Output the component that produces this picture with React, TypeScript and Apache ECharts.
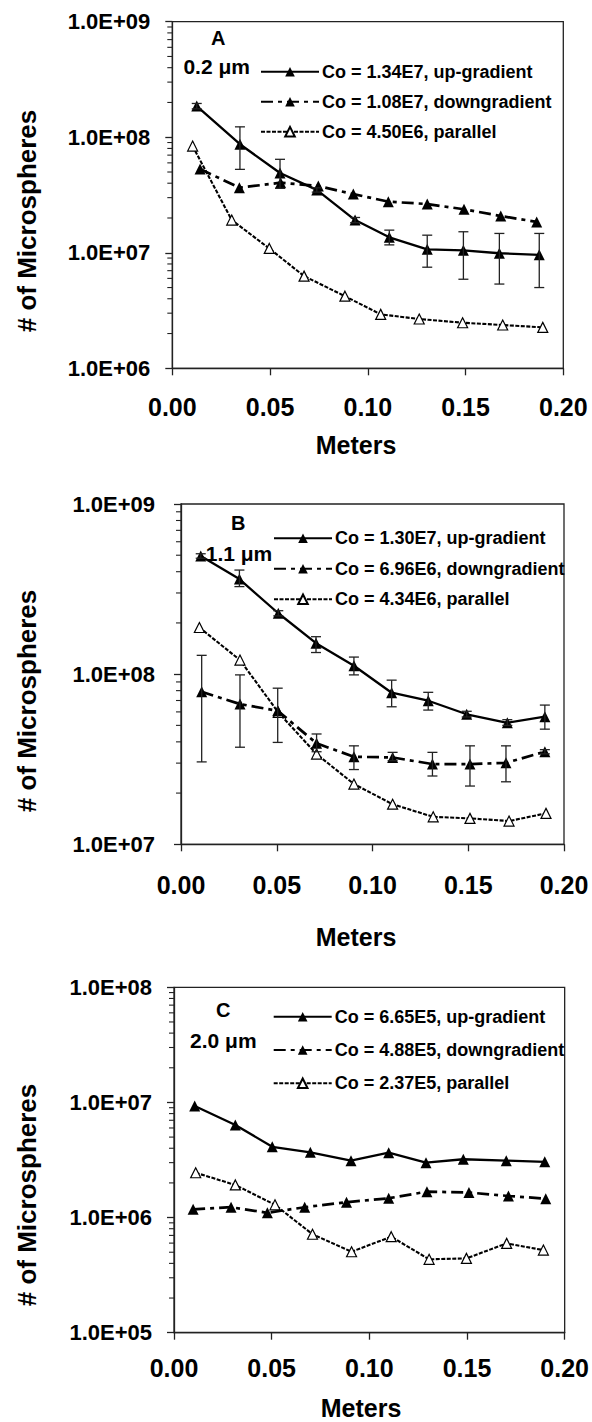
import React, { useEffect, useRef } from "react";
import * as echarts from "echarts";

// ---------- data ----------
const X_TICKS_MIN = 0;
const X_TICKS_MAX = 0.2;
const X_TICK_STEP = 0.05;
const MINOR_MULTIPLIERS = [2, 3, 4, 5, 6, 7, 8, 9];

// Panel A (0.2 um)
const A_NAMES = ["Co = 1.34E7, up-gradient", "Co = 1.08E7, downgradient", "Co = 4.50E6, parallel"];
const A_UP_X = [0.0125, 0.0346, 0.0551, 0.0739, 0.0935, 0.111, 0.1304, 0.1489, 0.1673, 0.1877];
const A_UP_Y = [1.86e8, 8.7e7, 4.9e7, 3.5e7, 1.92e7, 1.36e7, 1.07e7, 1.05e7, 9.9e6, 9.6e6];
const A_UP_LO = [1.76e8, 5.27e7, 3.61e7, 3.35e7, 1.82e7, 1.17e7, 7.5e6, 5.9e6, 5.36e6, 5.0e6];
const A_UP_HI = [1.96e8, 1.23e8, 6.44e7, 3.65e7, 2.02e7, 1.57e7, 1.42e7, 1.52e7, 1.47e7, 1.47e7];
const A_DN_X = [0.0142, 0.0343, 0.0554, 0.0747, 0.0926, 0.1105, 0.1304, 0.1492, 0.168, 0.1864];
const A_DN_Y = [5.3e7, 3.66e7, 4.04e7, 3.78e7, 3.22e7, 2.77e7, 2.64e7, 2.38e7, 2.08e7, 1.85e7];
const A_PA_X = [0.0104, 0.0304, 0.0496, 0.0674, 0.0883, 0.1066, 0.1263, 0.1485, 0.169, 0.1895];
const A_PA_Y = [8.39e7, 1.92e7, 1.09e7, 6.28e6, 4.21e6, 2.93e6, 2.67e6, 2.48e6, 2.37e6, 2.26e6];

// Panel B (1.1 um)
const B_NAMES = ["Co = 1.30E7, up-gradient", "Co = 6.96E6, downgradient", "Co = 4.34E6, parallel"];
const B_UP_X = [0.0103, 0.0305, 0.0508, 0.0705, 0.0903, 0.11, 0.1291, 0.1492, 0.1704, 0.19];
const B_UP_Y = [4.95e8, 3.62e8, 2.28e8, 1.52e8, 1.12e8, 7.78e7, 6.98e7, 5.81e7, 5.18e7, 5.62e7];
const B_UP_LO = [4.8e8, 3.27e8, 2.2e8, 1.34e8, 9.9e7, 6.43e7, 6.15e7, 5.6e7, 5.0e7, 4.75e7];
const B_UP_HI = [5.1e8, 4.09e8, 2.36e8, 1.66e8, 1.26e8, 9.22e7, 7.82e7, 6.05e7, 5.4e7, 6.58e7];
const B_DN_X = [0.0108, 0.0308, 0.0505, 0.0708, 0.0903, 0.1105, 0.1313, 0.1509, 0.1697, 0.19];
const B_DN_Y = [7.88e7, 6.67e7, 6.09e7, 3.92e7, 3.27e7, 3.24e7, 2.96e7, 2.96e7, 3.01e7, 3.5e7];
const B_DN_LO = [3.05e7, 3.72e7, 3.97e7, 3.5e7, 2.75e7, 3.1e7, 2.52e7, 2.2e7, 2.33e7, 3.4e7];
const B_DN_HI = [1.29e8, 9.9e7, 8.27e7, 4.45e7, 3.79e7, 3.47e7, 3.47e7, 3.79e7, 3.79e7, 3.6e7];
const B_PA_X = [0.0096, 0.0308, 0.0508, 0.0708, 0.0903, 0.1105, 0.1317, 0.1509, 0.1713, 0.1906];
const B_PA_Y = [1.88e8, 1.21e8, 5.96e7, 3.39e7, 2.26e7, 1.72e7, 1.45e7, 1.42e7, 1.37e7, 1.52e7];

// Panel C (2.0 um)
const C_NAMES = ["Co = 6.65E5, up-gradient", "Co = 4.88E5, downgradient", "Co = 2.37E5, parallel"];
const C_UP_X = [0.0106, 0.0314, 0.0503, 0.0698, 0.0906, 0.1099, 0.129, 0.1481, 0.1701, 0.1898];
const C_UP_Y = [9.31e6, 6.37e6, 4.12e6, 3.69e6, 3.12e6, 3.66e6, 3.0e6, 3.21e6, 3.12e6, 3.05e6];
const C_DN_X = [0.0098, 0.0292, 0.0478, 0.0669, 0.0883, 0.1099, 0.1295, 0.151, 0.1712, 0.1903];
const C_DN_Y = [1.18e6, 1.23e6, 1.1e6, 1.23e6, 1.36e6, 1.47e6, 1.68e6, 1.65e6, 1.54e6, 1.46e6];
const C_PA_X = [0.0111, 0.0314, 0.0517, 0.0709, 0.0909, 0.1112, 0.1306, 0.1497, 0.1703, 0.1891];
const C_PA_Y = [2.45e6, 1.92e6, 1.29e6, 7.16e5, 5.05e5, 6.82e5, 4.34e5, 4.42e5, 5.97e5, 5.22e5];

const PANEL_LETTERS = ["A", "B", "C"];
const PANEL_SIZES = ["0.2 \u03bcm", "1.1 \u03bcm", "2.0 \u03bcm"];
const Y_MIN = [1e6, 1e7, 1e5];
const Y_MAX = [1e9, 1e9, 1e8];
const Y_TITLE = "# of Microspheres";
const X_TITLE = "Meters";

// ---------- layout ----------
const FONT = '"Liberation Sans", Arial, Helvetica, sans-serif';
const LAYOUT = [
  {
    grid: { left: 172.3, top: 21.7, width: 391, height: 346.6 },
    yLabelMargin: 22, xLabelMargin: 26,
    legend: { left: 260, top: 62.7, gap: 12 },
    letter: [218.3, 38.3], size: [216.7, 66.7],
    yTitle: [27, 221], xTitle: [356, 445],
  },
  {
    grid: { left: 181, top: 504, width: 383, height: 340.3 },
    yLabelMargin: 26, xLabelMargin: 28,
    legend: { left: 273, top: 529.3, gap: 12.5 },
    letter: [238.3, 523.3], size: [239, 553.3],
    yTitle: [27, 701], xTitle: [356, 937],
  },
  {
    grid: { left: 174, top: 987.3, width: 394.7, height: 345.4 },
    yLabelMargin: 22, xLabelMargin: 23,
    legend: { left: 272.7, top: 1007.7, gap: 15.3 },
    letter: [223.3, 1010], size: [223.3, 1040.7],
    yTitle: [27, 1195], xTitle: [361, 1408],
  },
];

const zip = (xs: number[], ys: number[]) => xs.map((x, i) => [x, ys[i]]);
const zip3 = (xs: number[], lo: number[], hi: number[]) => xs.map((x, i) => [x, lo[i], hi[i]]);

const STYLE: Record<string, any> = {
  up: {
    lineStyle: { color: "#000", width: 2.3, type: "solid" },
    symbol: "triangle", symbolSize: 11,
    itemStyle: { color: "#000" },
  },
  down: {
    lineStyle: { color: "#000", width: 2.7, type: [12, 5, 4, 5] },
    symbol: "triangle", symbolSize: 11,
    itemStyle: { color: "#000" },
  },
  par: {
    lineStyle: { color: "#000", width: 2.1, type: [4, 1.5] },
    symbol: "triangle", symbolSize: 10,
    itemStyle: { color: "#fff", borderColor: "#000", borderWidth: 1.2 },
  },
};

const PANEL_SERIES = [
  [
    { name: A_NAMES[0], kind: "up", data: zip(A_UP_X, A_UP_Y), err: zip3(A_UP_X, A_UP_LO, A_UP_HI) },
    { name: A_NAMES[1], kind: "down", data: zip(A_DN_X, A_DN_Y) },
    { name: A_NAMES[2], kind: "par", data: zip(A_PA_X, A_PA_Y) },
  ],
  [
    { name: B_NAMES[0], kind: "up", data: zip(B_UP_X, B_UP_Y), err: zip3(B_UP_X, B_UP_LO, B_UP_HI) },
    { name: B_NAMES[1], kind: "down", data: zip(B_DN_X, B_DN_Y), err: zip3(B_DN_X, B_DN_LO, B_DN_HI) },
    { name: B_NAMES[2], kind: "par", data: zip(B_PA_X, B_PA_Y) },
  ],
  [
    { name: C_NAMES[0], kind: "up", data: zip(C_UP_X, C_UP_Y) },
    { name: C_NAMES[1], kind: "down", data: zip(C_DN_X, C_DN_Y) },
    { name: C_NAMES[2], kind: "par", data: zip(C_PA_X, C_PA_Y) },
  ],
];

function expLabel(v: number) {
  const e = Math.round(Math.log10(v));
  return "1.0E+" + (e < 10 ? "0" : "") + e;
}

function buildOption() {
  const grid: any[] = [];
  const xAxis: any[] = [];
  const yAxis: any[] = [];
  const legend: any[] = [];
  const series: any[] = [];
  const graphic: any[] = [];

  LAYOUT.forEach((L, i) => {
    grid.push({ ...L.grid, show: true, borderColor: "#222", borderWidth: 1.3, backgroundColor: "#fff", containLabel: false });
    xAxis.push({
      type: "value", gridIndex: i, min: X_TICKS_MIN, max: X_TICKS_MAX, interval: X_TICK_STEP,
      axisLine: { show: true, onZero: false, lineStyle: { color: "#222", width: 1.3 } },
      axisTick: { show: true, length: 7, lineStyle: { color: "#222", width: 1.3 } },
      axisLabel: {
        margin: L.xLabelMargin, color: "#000", fontSize: 25, fontWeight: "bold", fontFamily: FONT,
        formatter: (v: number) => v.toFixed(2),
      },
      splitLine: { show: false },
    });
    yAxis.push({
      type: "log", logBase: 10, gridIndex: i, min: Y_MIN[i], max: Y_MAX[i],
      axisLine: { show: true, lineStyle: { color: "#222", width: 1.3 } },
      axisTick: { show: true, length: 7, lineStyle: { color: "#222", width: 1.3 } },
      axisLabel: {
        margin: L.yLabelMargin, color: "#000", fontSize: 22, fontWeight: "bold", fontFamily: FONT,
        formatter: expLabel,
      },
      splitLine: { show: false },
    });

    const names = PANEL_SERIES[i].map((s) => s.name);
    legend.push({
      data: names, orient: "vertical", left: L.legend.left, top: L.legend.top,
      itemGap: L.legend.gap, itemWidth: 58, itemHeight: 12, padding: 0,
      selectedMode: false,
      textStyle: { fontSize: 18, fontWeight: "bold", fontFamily: FONT, color: "#000", padding: [0, 0, 0, -2] },
    });

    // minor log ticks
    const minor: number[][] = [];
    for (let e = Math.round(Math.log10(Y_MIN[i])); e < Math.round(Math.log10(Y_MAX[i])); e++) {
      MINOR_MULTIPLIERS.forEach((m) => minor.push([0, m * Math.pow(10, e)]));
    }
    series.push({
      type: "custom", xAxisIndex: i, yAxisIndex: i, clip: false, silent: true, z: 1,
      data: minor,
      renderItem: (_p: any, api: any) => {
        const p = api.coord([0, api.value(1)]);
        return { type: "line", shape: { x1: p[0] - 5, y1: p[1], x2: p[0], y2: p[1] }, style: { stroke: "#222", lineWidth: 1.1 } };
      },
    });

    PANEL_SERIES[i].forEach((s: any) => {
      const st = STYLE[s.kind];
      series.push({
        type: "line", name: s.name, xAxisIndex: i, yAxisIndex: i, data: s.data,
        symbol: st.symbol, symbolSize: st.symbolSize, showSymbol: true,
        lineStyle: st.lineStyle, itemStyle: st.itemStyle, z: s.kind === "par" ? 3 : 4,
        emphasis: { disabled: true },
      });
      if (s.err) {
        series.push({
          type: "custom", xAxisIndex: i, yAxisIndex: i, clip: false, silent: true, z: 5,
          data: s.err,
          encode: { x: 0, y: [1, 2] },
          renderItem: (_p: any, api: any) => {
            const x = api.value(0);
            const lo = api.coord([x, api.value(1)]);
            const hi = api.coord([x, api.value(2)]);
            const st2 = { stroke: "#222", lineWidth: 1.3 };
            return {
              type: "group",
              children: [
                { type: "line", shape: { x1: lo[0], y1: lo[1], x2: hi[0], y2: hi[1] }, style: st2 },
                { type: "line", shape: { x1: hi[0] - 5, y1: hi[1], x2: hi[0] + 5, y2: hi[1] }, style: st2 },
                { type: "line", shape: { x1: lo[0] - 5, y1: lo[1], x2: lo[0] + 5, y2: lo[1] }, style: st2 },
              ],
            };
          },
        });
      }
    });

    const txt = (x: number, y: number, text: string, size: number, rot = 0) => ({
      type: "text", x, y, rotation: rot, silent: true, z: 10,
      style: { text, fill: "#000", fontSize: size, fontWeight: "bold", fontFamily: FONT, align: "center", verticalAlign: "middle" },
    });
    graphic.push(txt(L.letter[0], L.letter[1], PANEL_LETTERS[i], 20));
    graphic.push(txt(L.size[0], L.size[1], PANEL_SIZES[i], 21));
    graphic.push(txt(L.yTitle[0], L.yTitle[1], Y_TITLE, 26, Math.PI / 2));
    graphic.push(txt(L.xTitle[0], L.xTitle[1], X_TITLE, 25));
  });

  return {
    animation: false,
    backgroundColor: "#fff",
    textStyle: { fontFamily: FONT },
    grid, xAxis, yAxis, legend, series, graphic,
  };
}

export default function App() {
  const ref = useRef<HTMLDivElement>(null);
  useEffect(() => {
    if (!ref.current) return;
    const chart = echarts.init(ref.current, undefined, { renderer: "svg" });
    chart.setOption(buildOption() as any);
    return () => chart.dispose();
  }, []);
  return (
    <div
      ref={ref}
      style={{ position: "absolute", left: 0, top: 0, width: 592, height: 1422, background: "#fff" }}
    />
  );
}
